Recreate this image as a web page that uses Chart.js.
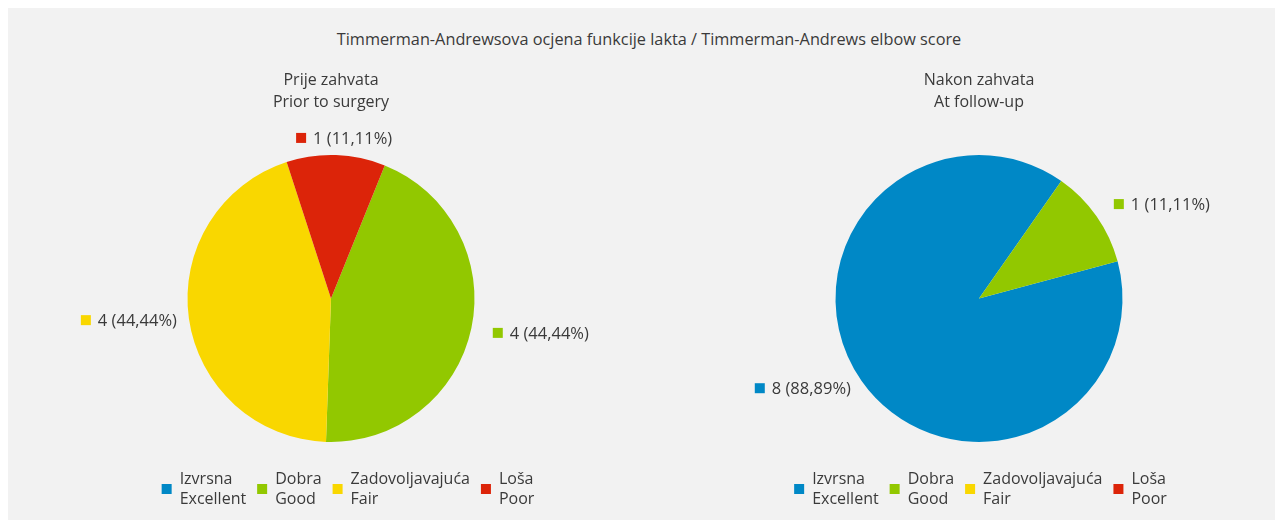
<!DOCTYPE html>
<html>
<head>
<meta charset="utf-8">
<script src="https://cdn.jsdelivr.net/npm/chart.js@4.4.1/dist/chart.umd.min.js"></script>
<style>
  html, body { margin: 0; padding: 0; width: 1275px; height: 520px; overflow: hidden; background: #fff; }
  body { position: relative; font-family: "Open Sans", sans-serif; }
  #panel { position: absolute; left: 8px; top: 8px; width: 1267px; height: 512px; background: #f2f2f2; }
  #mainTitle { position: absolute; left: 0; top: 28px; width: 1298px; text-align: center;
               font-size: 16.3px; line-height: 22px; color: #3a3a3a; white-space: nowrap; }
  .box { position: absolute; top: 0; width: 580px; height: 520px; }
</style>
</head>
<body>
<div id="panel"></div>
<div id="mainTitle"></div>
<div class="box" style="left:41px"><canvas id="priorChart" width="580" height="520"></canvas></div>
<div class="box" style="left:689px"><canvas id="followChart" width="580" height="520"></canvas></div>

<script>
const mainTitle = "Timmerman-Andrewsova ocjena funkcije lakta / Timmerman-Andrews elbow score";
const categories = [["Izvrsna", "Excellent"], ["Dobra", "Good"], ["Zadovoljavajuća", "Fair"], ["Loša", "Poor"]];
const colors = ["#0088c6", "#92c800", "#f9d700", "#dc2409"];

const priorTitle = ["Prije zahvata", "Prior to surgery"];
const priorCounts = [0, 4, 4, 1];

const followTitle = ["Nakon zahvata", "At follow-up"];
const followCounts = [8, 1, 0, 0];

const textColor = "#3a3a3a";
const fontFamily = '"Open Sans", sans-serif';

document.getElementById("mainTitle").textContent = mainTitle;

// value labels outside the pie, with a small colour square in front
const outsideLabels = {
  id: "outsideLabels",
  afterDatasetsDraw(chart, args, opts) {
    const ctx = chart.ctx;
    const data = chart.data.datasets[0].data;
    const bg = chart.data.datasets[0].backgroundColor;
    const total = data.reduce((a, b) => a + b, 0);
    ctx.save();
    ctx.font = "16.5px " + fontFamily;
    ctx.textBaseline = "alphabetic";
    chart.getDatasetMeta(0).data.forEach((arc, i) => {
      if (!data[i]) return;
      const p = arc.getProps(["x", "y", "startAngle", "endAngle", "outerRadius"], true);
      const mid = (p.startAngle + p.endAngle) / 2;
      const c = Math.cos(mid);
      const r = p.outerRadius + 17 + 5 * c;
      const ax = p.x + c * r;
      const ay = p.y + Math.sin(mid) * r;
      const text = data[i] + " (" + (data[i] / total * 100).toFixed(2).replace(".", ",") + "%)";
      const w = 10 + 7 + ctx.measureText(text).width;
      const k = Math.max(-1, Math.min(1, c * 4.5));
      const left = ax - w * (1 - k) / 2;
      ctx.fillStyle = bg[i];
      ctx.fillRect(left, ay - 5, 10, 10);
      ctx.fillStyle = textColor;
      ctx.fillText(text, left + 17, ay + 5.8);
    });
    ctx.restore();
  }
};

// legend with two-line labels under the pie
const twoLineLegend = {
  id: "twoLineLegend",
  afterDraw(chart, args, opts) {
    const ctx = chart.ctx;
    const area = chart.chartArea;
    ctx.save();
    ctx.font = "16px " + fontFamily;
    const items = chart.data.labels.map((lines, i) => ({
      lines: lines,
      color: chart.data.datasets[0].backgroundColor[i],
      w: Math.max(...lines.map(l => ctx.measureText(l).width))
    }));
    const total = items.reduce((s, it) => s + 18 + it.w, 0) + 11 * (items.length - 1);
    let x = (area.left + area.right) / 2 + opts.shift - total / 2;
    const base = area.bottom + 42;
    items.forEach(it => {
      ctx.fillStyle = it.color;
      ctx.fillRect(x, base, 10, 10);
      ctx.fillStyle = textColor;
      ctx.fillText(it.lines[0], x + 18, base);
      ctx.fillText(it.lines[1], x + 18, base + 20);
      x += 18 + it.w + 11;
    });
    ctx.restore();
  }
};

function makePie(canvasId, title, counts, rotation, legendShift) {
  return new Chart(document.getElementById(canvasId), {
    type: "pie",
    data: {
      labels: categories,
      datasets: [{
        data: counts,
        backgroundColor: colors,
        borderWidth: 0
      }]
    },
    options: {
      responsive: false,
      animation: false,
      rotation: rotation,
      layout: { padding: { top: 0, bottom: 78, left: 0, right: 0 } },
      plugins: {
        legend: { display: false },
        tooltip: { enabled: false },
        title: {
          display: true,
          text: title,
          color: textColor,
          font: { family: fontFamily, size: 16, weight: "normal", lineHeight: 22 / 16 },
          padding: { top: 69, bottom: 42 }
        },
        twoLineLegend: { shift: legendShift }
      }
    },
    plugins: [outsideLabels, twoLineLegend]
  });
}

makePie("priorChart", priorTitle, priorCounts, 22, 17);
makePie("followChart", followTitle, followCounts, 75, 1.5);
</script>
</body>
</html>
